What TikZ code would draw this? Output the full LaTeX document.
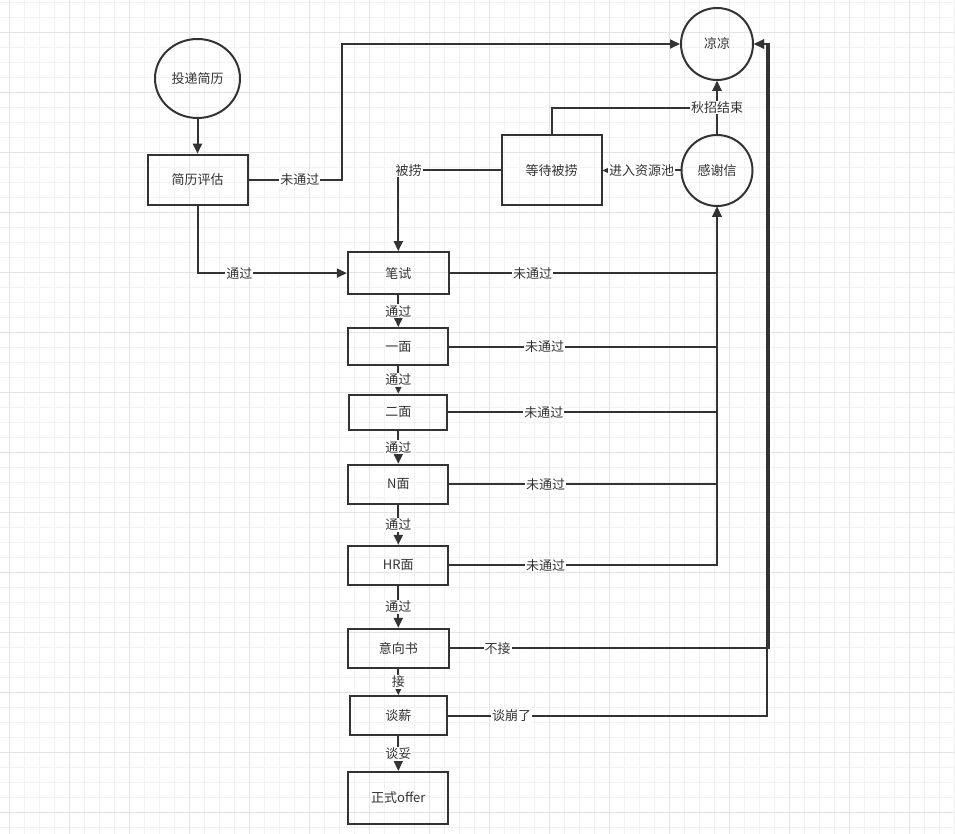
\documentclass[tikz,border=0pt]{standalone}
\usepackage{fontspec}
\setmainfont{Noto Sans CJK SC}
\usetikzlibrary{positioning,shapes.geometric,arrows.meta}
\definecolor{ink}{HTML}{333333}
\definecolor{gridminor}{HTML}{F2F2F2}
\definecolor{gridmajor}{HTML}{E4E4E4}
\tikzset{
	stage/.style={draw=ink, line width=2pt, rectangle, minimum width=100pt, minimum height=39pt, inner sep=0pt},
	terminal/.style={draw=ink, line width=2pt, circle, minimum size=71pt, inner sep=0pt},
	flow/.style={draw=ink, line width=2pt, -{Triangle[length=10pt,width=9pt]}},
	lbl/.style={fill=white, inner sep=1pt, text=ink},
}
\begin{document}
\begin{tikzpicture}[x=1pt, y=-1pt, font=\fontsize{13pt}{15pt}\selectfont, text=ink]
	\useasboundingbox (0,0) rectangle (955,834);
	\fill[white] (0,0) rectangle (955,834);
	\foreach \gx in {0,...,63} \draw[gridminor, line width=1pt] ({9.3+15*\gx},0) -- ({9.3+15*\gx},834);
	\foreach \gy in {0,...,55} \draw[gridminor, line width=1pt] (0,{2.3+15*\gy}) -- (955,{2.3+15*\gy});
	\foreach \gx in {0,...,15} \draw[gridmajor, line width=1pt] ({9.3+60*\gx},0) -- ({9.3+60*\gx},834);
	\foreach \gy in {0,...,13} \draw[gridmajor, line width=1pt] (0,{32.3+60*\gy}) -- (955,{32.3+60*\gy});

	\node[terminal, ellipse, minimum width=85pt, minimum height=79pt](resume) at (197.5,78.5){投递简历};
	\node[stage, below=34.7pt of resume, minimum height=50pt](eval){简历评估};
	\node[stage, below right=45.4pt and 98.3pt of eval, minimum width=101pt, minimum height=42pt](exam){笔试};
	\node[stage, below=32pt of exam, minimum height=37pt](round1){一面};
	\node[stage, below=27.7pt of round1, minimum width=98pt, minimum height=35pt](round2){二面};
	\node[stage, below=33pt of round2](roundN){N面};
	\node[stage, below=40pt of roundN](roundHR){HR面};
	\node[stage, below=42pt of roundHR, minimum width=101pt](intent){意向书};
	\node[stage, below=26.4pt of intent, minimum width=97pt](salary){谈薪};
	\node[stage, below=34.7pt of salary, minimum height=52pt](offer){正式offer};
	\node[terminal, minimum size=72pt](cold) at (717,44){凉凉};
	\node[terminal, below=53pt of cold](thanks){感谢信};
	\node[stage, left=78pt of thanks, minimum height=70pt](wait){等待被捞};
	\coordinate (rise) at (342,43);
	\coordinate (railA) at (769,43);
	\coordinate (railB) at (767,43);

	\draw[flow] (resume) -- (eval);
	\draw[flow] (eval.east) -- node[lbl, pos=0.55]{未通过} (eval.east -| rise) |- (cold.west);
	\draw[flow] (eval.south) |- node[lbl, pos=0.64]{通过} (exam.west);
	\draw[flow] (exam) -- node[lbl]{通过} (round1);
	\draw[flow] (round1) -- node[lbl]{通过} (round2);
	\draw[flow] (round2) -- node[lbl]{通过} (roundN);
	\draw[flow] (roundN) -- node[lbl]{通过} (roundHR);
	\draw[flow] (roundHR) -- node[lbl]{通过} (intent);
	\draw[flow] (intent) -- node[lbl]{接} (salary);
	\draw[flow] (salary) -- node[lbl]{谈妥} (offer);
	\draw[flow] (exam.east) -| node[lbl, pos=0.155]{未通过} (thanks.south);
	\draw[flow] (round1.east) -| node[lbl, pos=0.178]{未通过} (thanks.south);
	\draw[flow] (round2.east) -| node[lbl, pos=0.178]{未通过} (thanks.south);
	\draw[flow] (roundN.east) -| node[lbl, pos=0.18]{未通过} (thanks.south);
	\draw[flow] (roundHR.east) -| node[lbl, pos=0.18]{未通过} (thanks.south);
	\draw[flow] (wait.north) -- ++(0,-26) -| (cold.south);
	\draw[flow] (thanks) -- node[lbl]{秋招结束} (cold);
	\draw[flow] (thanks.west) -- node[lbl]{进入资源池} (wait.east);
	\draw[flow] (wait.west) -| node[lbl, pos=0.45]{被捞} (exam.north);
	\draw[flow] (intent.east) -- node[lbl, pos=0.15]{不接} (intent.east -| railA) |- (cold.east);
	\draw[flow] (salary.east) -- node[lbl, pos=0.2]{谈崩了} (salary.east -| railB) |- (cold.east);
\end{tikzpicture}
\end{document}
